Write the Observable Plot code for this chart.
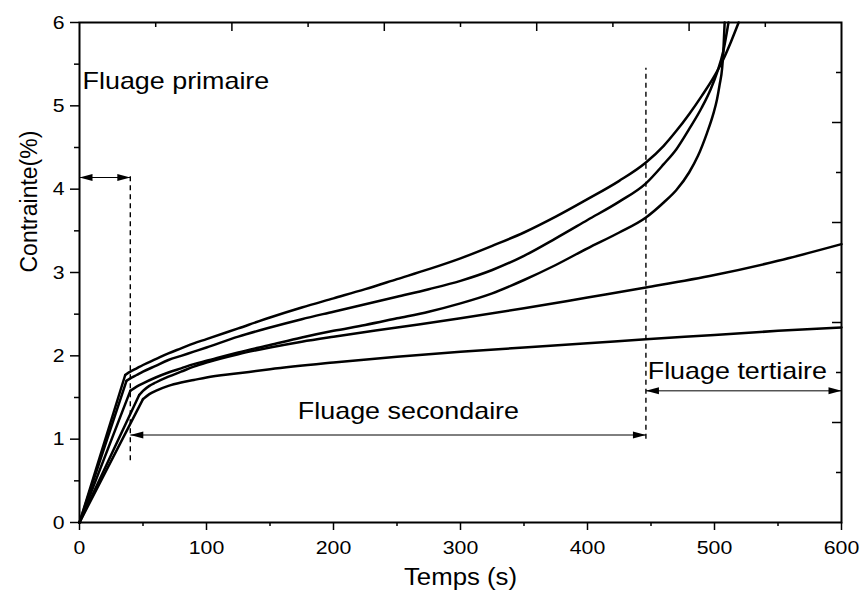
<!DOCTYPE html>
<html><head><meta charset="utf-8">
<script src="https://cdn.jsdelivr.net/npm/d3@7"></script>
<script src="https://cdn.jsdelivr.net/npm/@observablehq/plot@0.6"></script>
<style>body{margin:0;background:#fff} #chart svg{display:block}</style>
</head><body><div id="chart"></div>
<script>
// Curves: time (s) and strain (%)
const time1 = [0, 36, 40, 45, 50, 60, 70, 80, 90, 100, 125, 150, 175, 200, 225, 250, 275, 300, 325, 350, 375, 400, 425, 446, 460, 470, 480, 490, 500, 507, 513, 519];
const strain1 = [0, 1.77, 1.81, 1.85, 1.89, 1.96, 2.03, 2.09, 2.15, 2.20, 2.33, 2.46, 2.58, 2.69, 2.80, 2.92, 3.04, 3.17, 3.32, 3.48, 3.67, 3.88, 4.10, 4.32, 4.52, 4.70, 4.90, 5.12, 5.36, 5.56, 5.77, 6.0];
const time2 = [0, 37, 40, 45, 50, 60, 70, 80, 90, 100, 125, 150, 175, 200, 225, 250, 275, 300, 325, 350, 375, 400, 425, 446, 460, 470, 480, 490, 497, 502, 507, 511];
const strain2 = [0, 1.70, 1.73, 1.77, 1.81, 1.88, 1.95, 2.00, 2.05, 2.10, 2.23, 2.34, 2.44, 2.53, 2.62, 2.71, 2.80, 2.90, 3.03, 3.20, 3.41, 3.63, 3.85, 4.07, 4.30, 4.48, 4.72, 4.98, 5.20, 5.40, 5.66, 6.0];
const time3 = [0, 40, 45, 50, 60, 70, 80, 90, 100, 125, 150, 175, 200, 225, 250, 275, 300, 325, 350, 375, 400, 425, 446, 460, 470, 480, 487, 494, 499, 502, 504, 506, 507, 508];
const strain3 = [0, 1.58, 1.63, 1.67, 1.74, 1.80, 1.85, 1.90, 1.94, 2.04, 2.13, 2.22, 2.30, 2.37, 2.45, 2.53, 2.63, 2.75, 2.91, 3.09, 3.29, 3.48, 3.66, 3.84, 3.99, 4.20, 4.40, 4.67, 4.90, 5.08, 5.25, 5.45, 5.66, 6.0];
const time4 = [0, 47, 50, 55, 60, 70, 80, 90, 100, 125, 150, 175, 200, 250, 300, 350, 400, 446, 500, 550, 600];
const strain4 = [0, 1.53, 1.58, 1.64, 1.68, 1.75, 1.81, 1.87, 1.92, 2.02, 2.10, 2.17, 2.23, 2.34, 2.45, 2.57, 2.70, 2.82, 2.97, 3.14, 3.34];
const time5 = [0, 50, 55, 60, 70, 80, 90, 100, 125, 150, 200, 250, 300, 350, 400, 446, 500, 550, 600];
const strain5 = [0, 1.48, 1.54, 1.58, 1.64, 1.68, 1.71, 1.74, 1.79, 1.84, 1.92, 1.99, 2.05, 2.10, 2.15, 2.20, 2.25, 2.30, 2.34];

// Axis ticks
const xTicks = [0, 100, 200, 300, 400, 500, 600];
const xMinor = [50, 150, 250, 350, 450, 550];
const yTicks = [0, 1, 2, 3, 4, 5, 6];
const yMinor = [0.5, 1.5, 2.5, 3.5, 4.5, 5.5];
const topMajor = [120, 240, 360, 480];
const topMinor = [60, 180, 300, 420, 540];
const rightMajor = [1.2, 2.4, 3.6, 4.8];
const rightMinor = [0.6, 1.8, 3.0, 4.2, 5.4];

// Annotations
const phaseBounds = [40, 446];
const dashFrom = [0.74, 1.0];
const dashTo = [4.16, 5.45];
const arrowStart = [0, 40, 446];
const arrowEnd = [40, 446, 600];
const arrowLevel = [4.14, 1.05, 1.58];
const labelText = ["Fluage primaire", "Fluage secondaire", "Fluage tertiaire"];
const labelX = [2.4, 259, 518];
const labelY = [5.30, 1.33, 1.81];
const labelAnchor = ["start", "middle", "middle"];

const curves = [[time1, strain1], [time2, strain2], [time3, strain3], [time4, strain4], [time5, strain5]];
// loading ramp (first two points, straight) and creep part (from the knee on, smooth)
const rampRows = curves.flatMap(([t, v], i) => t.slice(0, 2).map((tt, j) => ({curve: i, t: tt, v: v[j]})));
const creepRows = curves.flatMap(([t, v], i) => t.slice(1).map((tt, j) => ({curve: i, t: tt, v: v[j + 1]})));
const dashes = phaseBounds.map((x, i) => ({x, y1: dashFrom[i], y2: dashTo[i]}));
const arrows = arrowStart.map((x1, i) => ({x1, x2: arrowEnd[i], y: arrowLevel[i]}));
const heads = arrows.flatMap(a => [{x: a.x1, y: a.y, r: 180}, {x: a.x2, y: a.y, r: 0}]);
const labels = labelText.map((text, i) => ({text, x: labelX[i], y: labelY[i], anchor: labelAnchor[i]}));

const headShape = {draw(ctx) { ctx.moveTo(0, 0); ctx.lineTo(-13, -3.5); ctx.lineTo(-13, 3.5); ctx.closePath(); }};

const chart = Plot.plot({
  width: 864, height: 601,
  marginLeft: 79, marginRight: 23, marginTop: 22, marginBottom: 79,
  style: {fontFamily: "'Liberation Sans', Arial, sans-serif", color: "#000", background: "#fff", overflow: "visible"},
  x: {domain: [0, 600]},
  y: {domain: [0, 6]},
  marks: [
    Plot.ruleX(dashes, {x: "x", y1: "y1", y2: "y2", stroke: "#000", strokeWidth: 1.4, strokeDasharray: "5,4"}),
    Plot.link(arrows, {x1: "x1", x2: "x2", y1: "y", y2: "y", stroke: "#000", strokeWidth: 1}),
    Plot.dot(heads, {x: "x", y: "y", rotate: "r", symbol: headShape, fill: "#000", stroke: null}),
    Plot.line(rampRows, {x: "t", y: "v", z: "curve", stroke: "#000", strokeWidth: 2.5, strokeLinecap: "round"}),
    Plot.line(creepRows, {x: "t", y: "v", z: "curve", stroke: "#000", strokeWidth: 2.5, strokeLinecap: "round", curve: "monotone-x"}),
    Plot.text(labels.filter(d => d.anchor === "start"), {x: "x", y: "y", text: "text", textAnchor: "start", fontSize: 24, fill: "#000"}),
    Plot.text(labels.filter(d => d.anchor === "middle"), {x: "x", y: "y", text: "text", textAnchor: "middle", fontSize: 24, fill: "#000"}),
    Plot.frame({stroke: "#000", strokeWidth: 2}),
    Plot.axisX(xTicks, {anchor: "bottom", tickSize: 8, tickPadding: 10, fontSize: 19, strokeWidth: 1.5, label: null, tickFormat: d => String(d)}),
    Plot.axisX(xMinor, {anchor: "bottom", tickSize: 4, text: null, strokeWidth: 1.5, label: null}),
    Plot.axisY(yTicks, {anchor: "left", tickSize: 9, tickPadding: 6, fontSize: 19, strokeWidth: 1.5, label: null, tickFormat: d => String(d)}),
    Plot.axisY(yMinor, {anchor: "left", tickSize: 5, text: null, strokeWidth: 1.5, label: null}),
    Plot.axisX(topMajor, {anchor: "top", tickSize: 8, dy: 8, text: null, strokeWidth: 1.5, label: null}),
    Plot.axisX(topMinor, {anchor: "top", tickSize: 4, dy: 4, text: null, strokeWidth: 1.5, label: null}),
    Plot.axisY(rightMajor, {anchor: "right", tickSize: 10, dx: -10, text: null, strokeWidth: 1.5, label: null}),
    Plot.axisY(rightMinor, {anchor: "right", tickSize: 6, dx: -6, text: null, strokeWidth: 1.5, label: null}),
    Plot.text(["Temps (s)"], {text: d => d, frameAnchor: "bottom", dy: 62, fontSize: 23, fill: "#000"}),
    Plot.text(["Contrainte(%)"], {text: d => d, frameAnchor: "left", dx: -50, rotate: -90, fontSize: 23, fill: "#000"})
  ]
});
document.getElementById("chart").append(chart);
// the reference glyphs are horizontally stretched
chart.querySelectorAll("text").forEach(t => {
  const tr = t.getAttribute("transform") || "";
  if (tr.includes("rotate")) return;
  const L = t.getComputedTextLength();
  if (L > 0) { t.setAttribute("textLength", (L * 1.12).toFixed(1)); t.setAttribute("lengthAdjust", "spacingAndGlyphs"); }
});
</script>
</body></html>
